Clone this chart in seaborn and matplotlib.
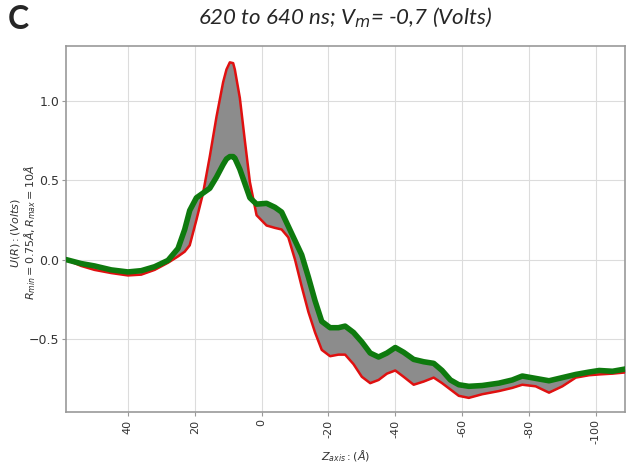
import numpy as np
import pandas as pd
import seaborn as sns
import matplotlib.pyplot as plt

# Z positions (Angstrom) shared by the first and last profile
z_axis = [58.5, 54, 50, 45, 40, 36, 32, 28, 25, 23, 21.5, 19.5, 17.5, 15.5, 13.5,
          11.5, 10.5, 9.5, 8.5, 8, 6.5, 5, 3.5, 1.5, -1.5, -4, -6, -8, -10, -12, -14, -16,
          -18, -20.5, -23, -25, -27.5, -30, -32.5, -35, -37.5, -40, -42.5, -45.5,
          -48.5, -51.5, -54, -56.5, -59, -62, -66, -71, -75, -78, -82, -86, -90,
          -94, -98, -101, -105, -109]

# first frame (620 ns) - red
u_first = [0.0, -0.04, -0.065, -0.085, -0.10, -0.095, -0.065, -0.02, 0.02, 0.05,
           0.09, 0.25, 0.42, 0.65, 0.9, 1.12, 1.2, 1.245, 1.24, 1.2, 1.02, 0.75, 0.49, 0.28,
           0.215, 0.2, 0.19, 0.14, 0.0, -0.17, -0.33, -0.46, -0.57, -0.61, -0.6,
           -0.6, -0.66, -0.74, -0.78, -0.76, -0.72, -0.70, -0.74, -0.79, -0.77,
           -0.745, -0.78, -0.82, -0.86, -0.873, -0.85, -0.83, -0.81, -0.79, -0.80,
           -0.84, -0.80, -0.745, -0.73, -0.725, -0.72, -0.712]

# last frame (640 ns) - green
u_last = [0.0, -0.025, -0.04, -0.065, -0.078, -0.07, -0.045, -0.005, 0.07, 0.19,
          0.31, 0.39, 0.42, 0.45, 0.52, 0.6, 0.635, 0.65, 0.65, 0.64, 0.57, 0.48, 0.39, 0.35,
          0.355, 0.33, 0.30, 0.21, 0.12, 0.03, -0.11, -0.26, -0.39, -0.43, -0.43,
          -0.42, -0.46, -0.52, -0.59, -0.615, -0.59, -0.555, -0.585, -0.63, -0.645,
          -0.655, -0.70, -0.76, -0.79, -0.80, -0.795, -0.78, -0.76, -0.735, -0.75,
          -0.765, -0.745, -0.725, -0.71, -0.70, -0.705, -0.69]

x_ticks = [40, 20, 0, -20, -40, -60, -80, -100]
x_tick_labels = ['40', '20', '0', '-20', '-40', '-60', '-80', '-100']

df = pd.DataFrame({'z': z_axis, 'first': u_first, 'last': u_last})

sns.set_style('whitegrid', {'grid.color': '#dcdcdc', 'axes.edgecolor': '#999999'})
plt.rcParams['font.family'] = ['DejaVu Sans']

fig = plt.figure(figsize=(6.29, 4.65), dpi=100)
ax = fig.add_axes([0.105, 0.113, 0.889, 0.787])

# band of intermediate frames
ax.fill_between(df['z'], df['first'], df['last'], color='#8c8c8c', lw=0, zorder=2)
sns.lineplot(data=df, x='z', y='first', color='#e01010', lw=1.8, ax=ax, zorder=3)
sns.lineplot(data=df, x='z', y='last', color='#0e7a0e', lw=4, ax=ax, zorder=4)

ax.set_xlim(58.5, -108.8)
ax.set_ylim(-0.965, 1.345)
ax.set_xticks(x_ticks)
ax.set_xticklabels(x_tick_labels, rotation=90, fontsize=8, color='#333333')
ax.set_yticks([-0.5, 0.0, 0.5, 1.0])
ax.tick_params(axis='y', labelsize=9, colors='#333333')
ax.tick_params(axis='both', length=3, pad=2, color='#999999', bottom=True, left=True)
for s in ax.spines.values():
    s.set_linewidth(1.2)

ax.set_xlabel(r'$Z_{axis}:(\AA)$', fontsize=8, color='#333333', labelpad=3)
ax.set_ylabel('')
# two-line y label
fig.text(0.024, 0.5, '$U(R):(Volts)$', rotation=90, ha='center', va='center',
         fontsize=8, color='#333333')
fig.text(0.048, 0.5, r'$R_{min}=0.75\AA,R_{max}=10\AA$', rotation=90, ha='center',
         va='center', fontsize=8, color='#333333')

fig.text(0.548, 0.962, r'620 to 640 ns; V$_m$= -0,7 (Volts)', ha='center', va='center',
         fontsize=16, style='italic', family=['Lato', 'DejaVu Sans'])
fig.text(0.013, 0.958, 'C', ha='left', va='center', fontsize=23, weight='bold',
         family=['Lato', 'DejaVu Sans'])

fig.savefig('out.png', dpi=100)
